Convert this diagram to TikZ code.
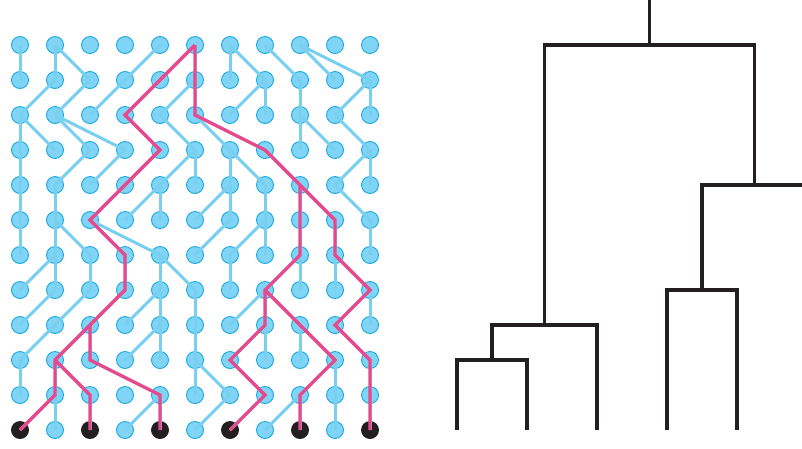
\documentclass[tikz,border=0pt]{standalone}
\usepackage{tikz}
\definecolor{GenePale}{HTML}{80D4F6}
\definecolor{GeneRim}{HTML}{1AA8E0}
\definecolor{GeneLine}{HTML}{78D0F1}
\definecolor{GenePink}{HTML}{E9498C}
\definecolor{GeneInk}{HTML}{231F20}

\begin{document}
\begin{tikzpicture}[
    x=1pt,y=-1pt,
    dot/.style={circle,fill=GenePale,draw=GeneRim,line width=0.9pt,minimum size=17pt,inner sep=0pt},
    leaf0/.style={dot,fill=GeneInk,draw=GeneInk},
    leaf1/.style={dot},
    gene/.style={GeneLine,line width=3pt},
    lineage/.style={GenePink,line width=3.2pt},
    tree/.style={GeneInk,line width=3.2pt}
  ]
    \useasboundingbox (0,0) rectangle (802,448);
    \clip (0,0) rectangle (802,448);

    % population, oldest generation on top
    \foreach \r in {0,...,10}
      \foreach \c in {0,...,10}
        \node[dot] (n-\r-\c) at ({20+35*\c},{45+35*\r}) {};
    \foreach \c [evaluate=\c as \k using {int(mod(\c,2))}] in {0,...,10}
      \node[leaf\k] (n-11-\c) at ({20+35*\c},430) {};

    % parent of every individual (-1: none drawn)
    \foreach \r/\q/\ups in {
        1/0/{0,1,1,4,5,5,6,6,7,8,8},
        2/1/{1,2,3,4,5,5,7,7,8,10,10},
        3/2/{0,0,1,1,3,4,5,5,8,8,9},
        4/3/{0,2,3,4,5,5,6,6,7,10,10},
        5/4/{0,1,3,4,4,6,6,7,8,8,9},
        6/5/{0,1,1,2,2,6,7,7,8,9,10},
        7/6/{1,1,2,3,4,4,6,8,8,9,9},
        8/7/{1,2,3,4,4,5,7,7,7,10,10},
        9/8/{1,2,2,4,4,5,7,7,8,8,9},
        10/9/{0,1,1,-1,2,5,5,6,9,9,10},
        11/10/{1,1,2,4,4,6,7,8,8,9,10}}
      \foreach \p [count=\c from 0] in \ups {
        \ifnum\p<0 \else \draw[gene] (n-\r-\c.center) -- (n-\q-\p.center); \fi
      };

    % ancestry of the sample
    \draw[lineage] (n-11-0.center) -- (n-10-1.center) -- (n-9-1.center) -- (n-8-2.center)
      -- (n-7-3.center) -- (n-6-3.center) -- (n-5-2.center) -- (n-4-3.center)
      -- (n-3-4.center) -- (n-2-3.center) -- (n-1-4.center) -- (n-0-5.center);
    \draw[lineage] (n-11-2.center) -- (n-10-2.center) -- (n-9-1.center);
    \draw[lineage] (n-11-4.center) -- (n-10-4.center) -- (n-9-2.center) -- (n-8-2.center);
    \draw[lineage] (n-11-6.center) -- (n-10-7.center) -- (n-9-6.center) -- (n-8-7.center)
      -- (n-7-7.center) -- (n-6-8.center) -- (n-5-8.center) -- (n-4-8.center)
      -- (n-3-7.center) -- (n-2-5.center) -- (n-1-5.center) -- (n-0-5.center);
    \draw[lineage] (n-11-8.center) -- (n-10-8.center) -- (n-9-9.center) -- (n-8-8.center)
      -- (n-7-7.center);
    \draw[lineage] (n-11-10.center) -- (n-10-10.center) -- (n-9-10.center) -- (n-8-9.center)
      -- (n-7-10.center) -- (n-6-9.center) -- (n-5-9.center) -- (n-4-8.center);

    % genealogy
    \coordinate (leafA) at (457,430);
    \coordinate (leafB) at (527,430);
    \coordinate (leafC) at (597,430);
    \coordinate (leafD) at (667,430);
    \coordinate (leafE) at (737,430);
    \coordinate (leafF) at (807,430);
    \coordinate (mergeAB) at (492,360);
    \coordinate (mergeABC) at (544.5,325);
    \coordinate (mergeDE) at (702,290);
    \coordinate (mergeDEF) at (754.5,185);
    \coordinate (root) at (649.5,45);
    \coordinate (stem) at (649.5,0);

    \draw[tree] (leafA) |- (mergeAB) -| (leafB);
    \draw[tree] (mergeAB) |- (mergeABC) -| (leafC);
    \draw[tree] (leafD) |- (mergeDE) -| (leafE);
    \draw[tree] (mergeDE) |- (mergeDEF) -| (leafF);
    \draw[tree] (mergeABC) |- (root) -| (mergeDEF);
    \draw[tree] (root) -- (stem);
  \end{tikzpicture}
\end{document}
